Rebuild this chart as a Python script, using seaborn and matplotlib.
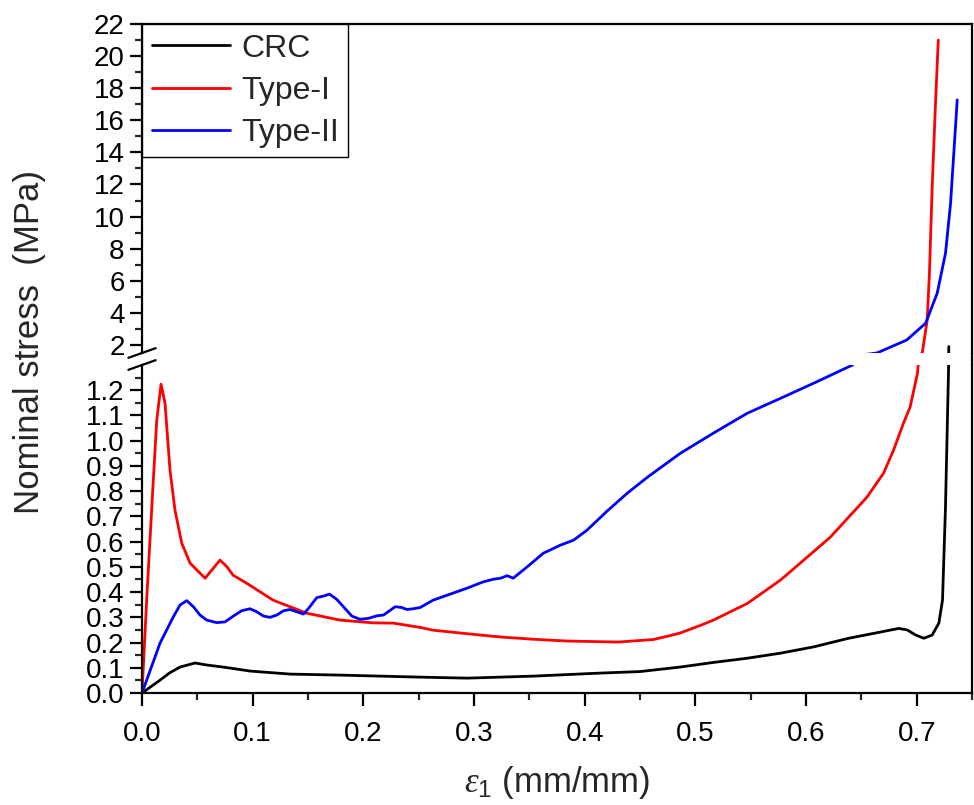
import numpy as np
import pandas as pd
import seaborn as sns
from matplotlib import pyplot as plt
from matplotlib.lines import Line2D

# data
crc_x = [0, 0.0163, 0.025, 0.0344, 0.048, 0.0585, 0.073, 0.0856, 0.0976,
         0.134, 0.179, 0.251, 0.294, 0.3535, 0.414, 0.45, 0.4864, 0.516,
         0.547, 0.577, 0.607, 0.6375, 0.6838, 0.6914, 0.699, 0.7064, 0.714,
         0.72, 0.7233, 0.726, 0.7288, 0.729]
crc_y = [0, 0.051, 0.08, 0.103, 0.119, 0.111, 0.103, 0.095, 0.087,
         0.075, 0.071, 0.063, 0.059, 0.067, 0.079, 0.085, 0.103, 0.121,
         0.138, 0.158, 0.183, 0.216, 0.256, 0.25, 0.23, 0.217, 0.23,
         0.277, 0.368, 0.737, 1.29, 1.9]

type1_x = [0, 0.0042, 0.0102, 0.0133, 0.0172, 0.0208, 0.0253, 0.0298,
           0.0359, 0.0434, 0.0497, 0.057, 0.063, 0.0705, 0.0768, 0.0823,
           0.0946, 0.1185, 0.149, 0.179, 0.209, 0.227, 0.2514, 0.263, 0.294,
           0.324, 0.354, 0.384, 0.43, 0.462, 0.4747, 0.4864, 0.5045, 0.5163,
           0.547, 0.577, 0.598, 0.622, 0.655, 0.670, 0.679, 0.688, 0.694,
           0.7007, 0.705, 0.7095, 0.7115, 0.714, 0.717, 0.7195]
type1_y = [0, 0.368, 0.843, 1.08, 1.224, 1.148, 0.883, 0.725,
           0.594, 0.515, 0.487, 0.455, 0.487, 0.527, 0.50, 0.467,
           0.435, 0.368, 0.316, 0.289, 0.278, 0.277, 0.26, 0.249, 0.235,
           0.222, 0.213, 0.206, 0.202, 0.212, 0.225, 0.238, 0.268, 0.289,
           0.355, 0.448, 0.527, 0.618, 0.776, 0.871, 0.962, 1.069, 1.133,
           1.267, 1.5, 3.56, 6.5, 11.9, 17.1, 21.0]

type2_x = [0, 0.0163, 0.0283, 0.0344, 0.0404, 0.0464, 0.0524, 0.0585,
           0.0675, 0.075, 0.0826, 0.09, 0.0976, 0.1037, 0.1097, 0.1157,
           0.1218, 0.1278, 0.1338, 0.1398, 0.1459, 0.1504, 0.1579, 0.1639,
           0.1694, 0.176, 0.182, 0.1896, 0.1971, 0.2047, 0.2122, 0.2182,
           0.2288, 0.2348, 0.2393, 0.2453, 0.2514, 0.263, 0.294, 0.308,
           0.3174, 0.324, 0.33, 0.3354, 0.348, 0.3626, 0.378, 0.39, 0.402,
           0.42, 0.4385, 0.4566, 0.4864, 0.5163, 0.547, 0.577, 0.607, 0.642,
           0.664, 0.691, 0.708, 0.7185, 0.726, 0.7306, 0.7335, 0.7366]
type2_y = [0, 0.198, 0.302, 0.349, 0.366, 0.342, 0.309, 0.289,
           0.279, 0.282, 0.305, 0.326, 0.334, 0.322, 0.305, 0.300,
           0.309, 0.326, 0.331, 0.322, 0.313, 0.335, 0.378, 0.384,
           0.392, 0.371, 0.342, 0.305, 0.292, 0.296, 0.306, 0.309,
           0.342, 0.339, 0.331, 0.334, 0.339, 0.368, 0.416, 0.44,
           0.451, 0.455, 0.465, 0.455, 0.50, 0.554, 0.586, 0.606, 0.645,
           0.72, 0.792, 0.855, 0.95, 1.03, 1.109, 1.168, 1.228, 1.30,
           1.5, 2.31, 3.35, 5.22, 7.71, 10.83, 13.94, 17.27]

names = ["CRC", "Type-I", "Type-II"]
colors = {"CRC": "black", "Type-I": "red", "Type-II": "blue"}

df = pd.concat([
    pd.DataFrame({"x": crc_x, "y": crc_y, "sample": "CRC"}),
    pd.DataFrame({"x": type1_x, "y": type1_y, "sample": "Type-I"}),
    pd.DataFrame({"x": type2_x, "y": type2_y, "sample": "Type-II"}),
])

sns.set_style("ticks")
plt.rcParams['font.family'] = ['Liberation Sans', 'DejaVu Sans']
plt.rcParams['mathtext.fontset'] = 'custom'
plt.rcParams['mathtext.it'] = 'Liberation Serif:italic'
plt.rcParams['mathtext.rm'] = 'Liberation Sans'

fig = plt.figure(figsize=(9.74, 8.05), dpi=100)
left, width = 0.1458, 0.8522
ax_top = fig.add_axes([left, 0.5615, width, 0.4087])
ax_bot = fig.add_axes([left, 0.1391, width, 0.4075])

for ax in (ax_top, ax_bot):
    sns.lineplot(data=df, x="x", y="y", hue="sample", hue_order=names,
                 palette=colors, estimator=None, sort=False, lw=2, ax=ax,
                 legend=(ax is ax_top))
    ax.set_xlim(0, 0.75)
    ax.set_xlabel("")
    ax.set_ylabel("")
    for s in ax.spines.values():
        s.set_linewidth(1.6)
        s.set_color("black")
    ax.tick_params(which="major", length=9, width=1.6, labelsize=20,
                   direction="out", colors="black")
    ax.tick_params(which="minor", length=5, width=1.6, direction="out")

# bottom part
ax_bot.set_ylim(0, 1.3)
ax_bot.set_yticks(np.arange(0, 1.21, 0.1))
ax_bot.set_yticklabels([f"{v:.1f}" for v in np.arange(0, 1.21, 0.1)])
ax_bot.set_yticks(np.arange(0.05, 1.26, 0.1), minor=True)
ax_bot.set_xticks(np.arange(0, 0.71, 0.1))
ax_bot.set_xticklabels([f"{v:.1f}" for v in np.arange(0, 0.71, 0.1)])
ax_bot.set_xticks(np.arange(0.05, 0.751, 0.1), minor=True)
ax_bot.spines["top"].set_visible(False)
ax_bot.tick_params(axis="x", pad=11)

# top part
ax_top.set_ylim(1.5, 22)
ax_top.set_yticks(np.arange(2, 23, 2))
ax_top.set_yticks(np.arange(3, 22, 2), minor=True)
ax_top.spines["bottom"].set_visible(False)
ax_top.set_xticks([])
ax_top.set_xticks([], minor=True)

# break marks on left spine, continuous right spine
x0 = left
x1 = left + width
for yb in (353, 365):
    yf = 1 - yb / 805
    fig.add_artist(Line2D([x0 - 0.014, x0 + 0.014], [yf - 0.006, yf + 0.006],
                          color="black", lw=1.6))
fig.add_artist(Line2D([x1, x1], [1 - 353 / 805, 1 - 365 / 805],
                      color="black", lw=1.6))

leg = ax_top.legend(loc="upper left", bbox_to_anchor=(0, 1), borderaxespad=0,
                    fontsize=23, handlelength=2.45, labelspacing=0.38,
                    handletextpad=0.35, fancybox=False, framealpha=1,
                    edgecolor="black", borderpad=0.3)
leg.get_frame().set_linewidth(1.0)

fig.text(0.03, 1 - 342 / 805, "Nominal stress  (MPa)", rotation=90,
         fontsize=25, ha="center", va="center")
fig.text(557 / 974, 1 - 782 / 805, r"$\varepsilon_1$ (mm/mm)", fontsize=25,
         ha="center", va="center")

fig.savefig("out.png", dpi=100)
